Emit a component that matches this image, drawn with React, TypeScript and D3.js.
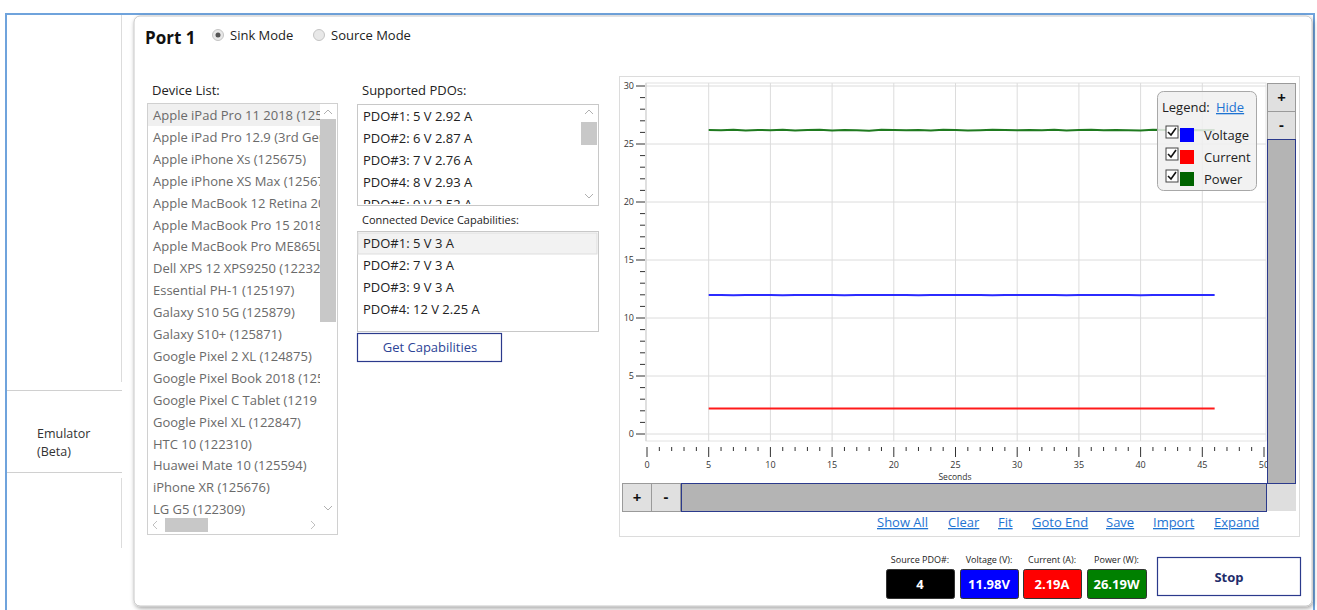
import * as d3 from 'd3';

// chart data (seconds vs. measured values)
const seconds = [5, 6, 7, 8, 9, 10, 11, 12, 13, 14, 15, 16, 17, 18, 19, 20, 21, 22, 23, 24, 25, 26, 27, 28, 29, 30, 31, 32, 33, 34, 35, 36, 37, 38, 39, 40, 41, 42, 43, 44, 45, 46];
const voltage = [11.98, 11.98, 11.97, 11.98, 11.98, 11.98, 11.97, 11.98, 11.98, 11.98, 11.98, 11.97, 11.98, 11.98, 11.98, 11.98, 11.98, 11.97, 11.98, 11.98, 11.98, 11.98, 11.98, 11.97, 11.98, 11.98, 11.98, 11.98, 11.98, 11.97, 11.98, 11.98, 11.98, 11.98, 11.98, 11.97, 11.98, 11.98, 11.98, 11.98, 11.98, 11.98];
const current = [2.19, 2.19, 2.2, 2.19, 2.19, 2.19, 2.19, 2.2, 2.19, 2.19, 2.19, 2.19, 2.19, 2.2, 2.19, 2.19, 2.19, 2.19, 2.19, 2.19, 2.2, 2.19, 2.19, 2.19, 2.19, 2.19, 2.19, 2.2, 2.19, 2.19, 2.19, 2.19, 2.19, 2.19, 2.2, 2.19, 2.19, 2.19, 2.19, 2.19, 2.19, 2.19];
const power = [26.2, 26.18, 26.22, 26.16, 26.21, 26.19, 26.23, 26.17, 26.2, 26.22, 26.16, 26.21, 26.19, 26.15, 26.22, 26.2, 26.18, 26.21, 26.17, 26.22, 26.2, 26.16, 26.19, 26.22, 26.2, 26.18, 26.21, 26.19, 26.23, 26.17, 26.2, 26.22, 26.18, 26.21, 26.19, 26.16, 26.22, 26.2, 26.18, 26.21, 26.19, 26.2];

const seriesNames = ['Voltage', 'Current', 'Power'];
const seriesColors = ['#0000ff', '#ff0000', '#006400'];
const lineColors = ['#2b2bff', '#ff1a1a', '#1f7a1f'];

// list entries as far as the list box shows them
const devices = [
  'Apple iPad Pro 11 2018 (125',
  'Apple iPad Pro 12.9 (3rd Gen',
  'Apple iPhone Xs (125675)',
  'Apple iPhone XS Max (12567',
  'Apple MacBook 12 Retina 20',
  'Apple MacBook Pro 15 2018',
  'Apple MacBook Pro ME865LL',
  'Dell XPS 12 XPS9250 (12232',
  'Essential PH-1 (125197)',
  'Galaxy S10 5G (125879)',
  'Galaxy S10+ (125871)',
  'Google Pixel 2 XL (124875)',
  'Google Pixel Book 2018 (125',
  'Google Pixel C Tablet (1219',
  'Google Pixel XL (122847)',
  'HTC 10 (122310)',
  'Huawei Mate 10 (125594)',
  'iPhone XR (125676)',
  'LG G5 (122309)',
];
const supportedPdos = ['PDO#1: 5 V 2.92 A', 'PDO#2: 6 V 2.87 A', 'PDO#3: 7 V 2.76 A', 'PDO#4: 8 V 2.93 A', 'PDO#5: 9 V 2.52 A'];
const connectedCaps = ['PDO#1: 5 V 3 A', 'PDO#2: 7 V 3 A', 'PDO#3: 9 V 3 A', 'PDO#4: 12 V 2.25 A'];
const links = [
  { label: 'Show All', x: 877 },
  { label: 'Clear', x: 948 },
  { label: 'Fit', x: 998 },
  { label: 'Goto End', x: 1032 },
  { label: 'Save', x: 1106 },
  { label: 'Import', x: 1153 },
  { label: 'Expand', x: 1214 },
];
const readoutLabels = ['Source PDO#:', 'Voltage (V):', 'Current (A):', 'Power (W):'];
const readoutValues = ['4', '11.98V', '2.19A', '26.19W'];
const readoutColors = ['#000000', '#0000ff', '#ff0000', '#008000'];

const FONT = '"Open Sans", "Noto Sans", sans-serif';

function ScrollArrow({ x, y, up }: { x: number; y: number; up: boolean }) {
  const d = up ? `M${x - 4},${y + 2} L${x},${y - 2} L${x + 4},${y + 2}` : `M${x - 4},${y - 2} L${x},${y + 2} L${x + 4},${y - 2}`;
  return <path d={d} fill="none" stroke="#b0b0b0" strokeWidth={1} />;
}

function CheckBox({ x, y }: { x: number; y: number }) {
  return (
    <g>
      <rect x={x} y={y} width={12} height={12} fill="#fff" stroke="#444" strokeWidth={1} />
      <path d={`M${x + 2},${y + 6} L${x + 5},${y + 9} L${x + 10},${y + 2}`} fill="none" stroke="#111" strokeWidth={1.6} />
    </g>
  );
}

function Radio({ x, y, on }: { x: number; y: number; on: boolean }) {
  return (
    <g>
      <circle cx={x} cy={y} r={5.5} fill="#e8e8e8" stroke="#c4c4c4" />
      {on && <circle cx={x} cy={y} r={2.5} fill="#555" />}
    </g>
  );
}

export default function App() {
  const x = d3.scaleLinear().domain([0, 50]).range([647, 1264]);
  const y = d3.scaleLinear().domain([0, 30]).range([434, 86]);

  const series = [voltage, current, power];
  const line = d3
    .line<number>()
    .x((_, i) => x(seconds[i]))
    .y((d) => y(d))
    .curve(d3.curveLinear);

  const xMajor = x.ticks(10);
  const xMinor = x.ticks(50);
  const yMajor = y.ticks(6);
  const yMinor = y.ticks(30);

  return (
    <div style={{ position: 'fixed', left: 0, top: 0 }}>
      <svg width={1317} height={610} style={{ display: 'block', fontFamily: FONT }}>
        <defs>
          <filter id="shadow" x="-5%" y="-5%" width="110%" height="110%">
            <feDropShadow dx={1} dy={2} stdDeviation={2} floodColor="#000" floodOpacity={0.35} />
          </filter>
          <clipPath id="devClip">
            <rect x={148} y={104} width={172} height={412} />
          </clipPath>
          <clipPath id="pdoClip">
            <rect x={358} y={105} width={222} height={99} />
          </clipPath>
        </defs>

        <rect x={0} y={0} width={1317} height={610} fill="#fff" />

        {/* outer frame and left navigation */}
        <path d="M6,610 L6,14 L1314,14 L1314,610" fill="none" stroke="#6fa3dc" strokeWidth={2} />
        <line x1={121.5} y1={15} x2={121.5} y2={382} stroke="#dcdcdc" />
        <line x1={7} y1={390.5} x2={122} y2={390.5} stroke="#d0d0d0" />
        <line x1={7} y1={472.5} x2={122} y2={472.5} stroke="#d0d0d0" />
        <line x1={121.5} y1={478} x2={121.5} y2={548} stroke="#dcdcdc" />
        <text x={37} y={438} fontSize={12.5} fill="#333">Emulator</text>
        <text x={37} y={456} fontSize={12.5} fill="#333">(Beta)</text>

        {/* main panel */}
        <rect x={134} y={16} width={1178} height={590} rx={6} fill="#fff" stroke="#c8c8c8" filter="url(#shadow)" />

        <text x={145} y={44} fontSize={17} fontWeight={700} fill="#111">Port 1</text>
        <Radio x={218} y={35} on={true} />
        <text x={230} y={40} fontSize={13} fill="#222">Sink Mode</text>
        <Radio x={319} y={35} on={false} />
        <text x={331} y={40} fontSize={13} fill="#222">Source Mode</text>

        {/* device list */}
        <text x={152} y={95} fontSize={13} fill="#222">Device List:</text>
        <rect x={147.5} y={103.5} width={190} height={431} fill="#fff" stroke="#d0d0d0" />
        <rect x={148} y={104} width={172} height={22} fill="#f0f0f0" />
        <g clipPath="url(#devClip)">
          {devices.map((d, i) => (
            <text key={d} x={153} y={120 + i * 21.9} fontSize={13} fill="#6a6a6a">{d}</text>
          ))}
        </g>
        <rect x={320} y={119} width={16} height={203} fill="#c8c8c8" />
        <ScrollArrow x={328} y={112} up={true} />
        <ScrollArrow x={328} y={508} up={false} />
        <rect x={165} y={518} width={43} height={14} fill="#c8c8c8" />
        <path d="M157,521 L153,525 L157,529" fill="none" stroke="#c0c0c0" />
        <path d="M311,521 L315,525 L311,529" fill="none" stroke="#c0c0c0" />

        {/* supported PDOs */}
        <text x={362} y={95} fontSize={13} fill="#222">Supported PDOs:</text>
        <rect x={357.5} y={104.5} width={241} height={101} fill="#fff" stroke="#c8c8c8" />
        <g clipPath="url(#pdoClip)">
          {supportedPdos.map((d, i) => (
            <text key={d} x={363} y={121 + i * 22} fontSize={13} fill="#222">{d}</text>
          ))}
        </g>
        <rect x={581} y={122} width={16} height={23} fill="#c8c8c8" />
        <ScrollArrow x={589} y={112} up={true} />
        <ScrollArrow x={589} y={196} up={false} />

        {/* connected device capabilities */}
        <text x={362} y={224} fontSize={11} fill="#222">Connected Device Capabilities:</text>
        <rect x={357.5} y={231.5} width={241} height={100} fill="#fff" stroke="#c8c8c8" />
        <rect x={358} y={233} width={239} height={21} fill="#f2f2f2" stroke="#dedede" />
        {connectedCaps.map((d, i) => (
          <text key={d} x={363} y={248 + i * 22} fontSize={13} fill="#222">{d}</text>
        ))}
        <rect x={357.5} y={333.5} width={144} height={28} fill="#fff" stroke="#2b3a8c" strokeWidth={1.2} />
        <text x={430} y={352} fontSize={13} fill="#2d4496" textAnchor="middle">Get Capabilities</text>

        {/* chart panel */}
        <rect x={619.5} y={76.5} width={680} height={460} fill="#fff" stroke="#dcdcdc" />
        <rect x={646} y={83} width={620} height={358} fill="#fff" stroke="#e2e2e2" />
        {xMajor.filter((t) => t > 0 && t < 50).map((t) => (
          <line key={`gx${t}`} x1={x(t)} x2={x(t)} y1={83} y2={441} stroke="#dcdcdc" />
        ))}
        {yMajor.map((t) => (
          <line key={`gy${t}`} x1={646} x2={1266} y1={y(t)} y2={y(t)} stroke="#dcdcdc" />
        ))}
        <line x1={646} x2={646} y1={83} y2={441} stroke="#cfcfcf" />

        {/* y axis ticks */}
        {yMinor.map((t) => (
          <line key={`ym${t}`} x1={t % 5 === 0 ? 636 : 640} x2={645} y1={y(t)} y2={y(t)} stroke="#333" strokeWidth={1} />
        ))}
        {yMajor.map((t) => (
          <text key={`yl${t}`} x={634} y={y(t) + 3} fontSize={9} fill="#333" textAnchor="end">{t}</text>
        ))}

        {/* x axis ticks */}
        {xMinor.map((t) => (
          <line key={`xm${t}`} x1={x(t)} x2={x(t)} y1={447} y2={t % 5 === 0 ? 457 : 451} stroke="#333" strokeWidth={1} />
        ))}
        {xMajor.map((t) => (
          <text key={`xl${t}`} x={x(t)} y={468} fontSize={9} fill="#333" textAnchor="middle">{t}</text>
        ))}
        <text x={955} y={480} fontSize={8.5} fill="#333" textAnchor="middle">Seconds</text>

        {/* series lines */}
        {series.map((s, i) => (
          <path key={seriesNames[i]} d={line(s) ?? ''} fill="none" stroke={lineColors[i]} strokeWidth={2} />
        ))}

        {/* legend */}
        <rect x={1157.5} y={91.5} width={99} height={99} rx={6} fill="#f0f0f0" fillOpacity={0.85} stroke="#a8a8a8" />
        <text x={1162} y={112} fontSize={13} fill="#222">Legend:</text>
        <text x={1216} y={112} fontSize={13} fill="#1e73d2" textDecoration="underline">Hide</text>
        {seriesNames.map((n, i) => (
          <g key={n}>
            <CheckBox x={1166} y={126 + i * 22} />
            <rect x={1180} y={128 + i * 22} width={14} height={14} fill={seriesColors[i]} />
            <text x={1204} y={140 + i * 22} fontSize={13} fill="#222">{n}</text>
          </g>
        ))}

        {/* vertical scroll */}
        <rect x={1267.5} y={83.5} width={28} height={28} fill="#e0e0e0" stroke="#9a9a9a" />
        <text x={1281.5} y={103} fontSize={15} fontWeight={700} textAnchor="middle" fill="#111">+</text>
        <rect x={1267.5} y={111.5} width={28} height={28} fill="#e0e0e0" stroke="#9a9a9a" />
        <text x={1281.5} y={130} fontSize={15} fontWeight={700} textAnchor="middle" fill="#111">-</text>
        <rect x={1267.5} y={139.5} width={28} height={344} fill="#b4b4b4" stroke="#2b3a8c" />
        <rect x={1267} y={484} width={29} height={27} fill="#dedede" />

        {/* horizontal scroll */}
        <rect x={622.5} y={483.5} width={29} height={28} fill="#e0e0e0" stroke="#9a9a9a" />
        <text x={637} y={503} fontSize={15} fontWeight={700} textAnchor="middle" fill="#111">+</text>
        <rect x={651.5} y={483.5} width={29} height={28} fill="#e0e0e0" stroke="#9a9a9a" />
        <text x={666} y={502} fontSize={15} fontWeight={700} textAnchor="middle" fill="#111">-</text>
        <rect x={681.5} y={483.5} width={585} height={28} fill="#b4b4b4" stroke="#2b3a8c" />

        {links.map((l) => (
          <text key={l.label} x={l.x} y={527} fontSize={13} fill="#1e73d2" textDecoration="underline">{l.label}</text>
        ))}

        {/* readouts */}
        {readoutLabels.map((lbl, i) => {
          const bx = [886, 960, 1023, 1087][i];
          const bw = [68, 58, 58, 59][i];
          return (
            <g key={lbl}>
              <text x={bx + bw / 2} y={563} fontSize={9} fill="#222" textAnchor="middle">{lbl}</text>
              <rect x={bx + 0.5} y={569.5} width={bw} height={29} rx={2} fill={readoutColors[i]} stroke="#333" />
              <text x={bx + bw / 2} y={589} fontSize={13} fontWeight={700} fill="#fff" textAnchor="middle">{readoutValues[i]}</text>
            </g>
          );
        })}
        <rect x={1157.5} y={557.5} width={143} height={38} fill="#fff" stroke="#2b3a8c" strokeWidth={1.2} />
        <text x={1229} y={582} fontSize={13} fontWeight={700} fill="#1f2d6b" textAnchor="middle">Stop</text>
      </svg>
    </div>
  );
}
